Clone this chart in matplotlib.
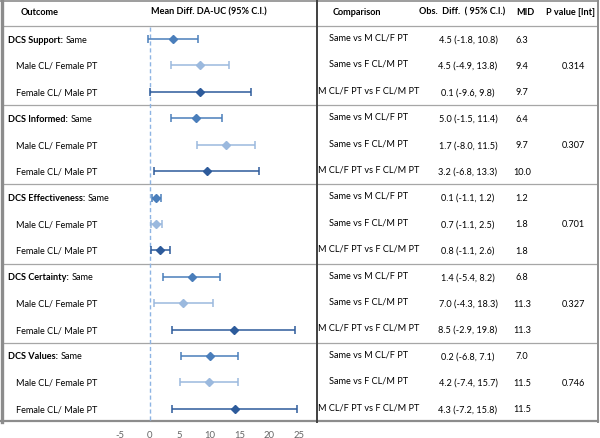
import matplotlib
matplotlib.use("Agg")
import matplotlib.pyplot as plt

plt.rcParams["font.family"] = ["Lato", "DejaVu Sans"]
plt.rcParams["axes.unicode_minus"] = False

outcomes = ["DCS Support", "DCS Informed", "DCS Effectiveness", "DCS Certainty", "DCS Values"]
subgroups = ["Same", "Male CL/ Female PT", "Female CL/ Male PT"]
colors = ["#4a7ebb", "#9bb9de", "#2d5b9b"]

# mean difference DA-UC and 95% CI, one value per row (5 outcomes x 3 subgroups)
means = [3.9, 8.4, 8.4, 7.7, 12.7, 9.6, 1.1, 1.0, 1.8, 7.0, 5.5, 14.0, 10.0, 9.9, 14.2]
lows = [-0.2, 3.6, 0.0, 3.5, 7.9, 0.8, 0.4, 0.3, 0.3, 2.3, 0.7, 3.7, 5.3, 5.1, 3.8]
highs = [8.1, 13.2, 16.9, 12.1, 17.6, 18.2, 1.9, 2.0, 3.4, 11.7, 10.5, 24.2, 14.8, 14.8, 24.5]

comparisons = ["Same vs M CL/F PT", "Same vs F CL/M PT", "M CL/F PT vs F CL/M PT"]
obs_est = [4.5, 4.5, 0.1, 5.0, 1.7, 3.2, 0.1, 0.7, 0.8, 1.4, 7.0, 8.5, 0.2, 4.2, 4.3]
obs_lo = [-1.8, -4.9, -9.6, -1.5, -8.0, -6.8, -1.1, -1.1, -1.1, -5.4, -4.3, -2.9, -6.8, -7.4, -7.2]
obs_hi = [10.8, 13.8, 9.8, 11.4, 11.5, 13.3, 1.2, 2.5, 2.6, 8.2, 18.3, 19.8, 7.1, 15.7, 15.8]
mid = [6.3, 9.4, 9.7, 6.4, 9.7, 10.0, 1.2, 1.8, 1.8, 6.8, 11.3, 11.3, 7.0, 11.5, 11.5]
p_int = ["0.314", "0.307", "0.701", "0.327", "0.746"]

xticks = [-5, 0, 5, 10, 15, 20, 25]

W, H = 600, 439
fig = plt.figure(figsize=(6, 4.39), dpi=100)
ax = fig.add_axes([0, 1 - 423 / H, 1, (423 - 1) / H])
x0px, ppu = 149.5, 6.0
ax.set_xlim(-x0px / ppu, (W - x0px) / ppu)
ax.set_ylim(14.5, -1.48)
for s in ax.spines.values():
    s.set_visible(False)
ax.set_yticks([])
ax.set_xticks(xticks)
ax.tick_params(axis="x", length=0, pad=5.5, labelsize=6.8, labelcolor="#666666")

def px(x):
    return x / W

T = ax.get_yaxis_transform()  # x in axes fraction, y in data

# frame and grid lines
line_kw = dict(transform=T, clip_on=False)
for y in [-0.49, 2.5, 5.5, 8.5, 11.5]:
    ax.plot([px(2), px(597)], [y, y], color="#a6a6a6", lw=0.9, **line_kw)
ax.plot([px(1.5), px(1.5)], [-1.48, 14.5], color="#8c8c8c", lw=2.4, **line_kw)
ax.plot([px(0), px(598)], [-1.45, -1.45], color="#8c8c8c", lw=1.2, **line_kw)
ax.plot([px(597.5), px(597.5)], [-1.48, 14.5], color="#8c8c8c", lw=1.4, **line_kw)
ax.plot([px(0), px(598)], [14.45, 14.45], color="#8c8c8c", lw=1.6, **line_kw)
ax.plot([px(317), px(317)], [-1.48, 14.5], color="#404040", lw=1.4, **line_kw)

# reference line at zero
ax.plot([0, 0], [-0.45, 14.45], color="#8eb4e3", lw=1, ls=(0, (3, 2)))

# forest plot
for i in range(len(means)):
    c = colors[i % 3]
    ax.errorbar(means[i], i, xerr=[[means[i] - lows[i]], [highs[i] - means[i]]],
                fmt="D", color=c, ms=4.2, lw=1.1, capsize=3, capthick=1.1)

fs = 6.6
hdr = dict(transform=T, ha="center", va="center", fontsize=fs, fontweight="bold")
ax.text(px(40), -1.06, "Outcome", **hdr)
ax.text(px(209), -1.06, "Mean Diff. DA-UC (95% C.I.)", **hdr)
ax.text(px(357), -1.06, "Comparison", **hdr)
ax.text(px(462), -1.06, "Obs.  Diff.  ( 95% C.I.)", **hdr)
ax.text(px(525), -1.06, "MID", **hdr)
ax.text(px(570), -1.06, "P value [Int]", **hdr)

fig.canvas.draw()
r = fig.canvas.get_renderer()
for g, name in enumerate(outcomes):
    y = g * 3
    t = ax.text(px(8), y, name + ":", transform=T, ha="left", va="center", fontsize=fs, fontweight="bold")
    bb = t.get_window_extent(renderer=r)
    ax.text(px(bb.x1 + 2.5), y, subgroups[0], transform=T, ha="left", va="center", fontsize=fs)
    for k in (1, 2):
        ax.text(px(16), y + k, subgroups[k], transform=T, ha="left", va="center", fontsize=fs)
    ax.text(px(573), y + 1, p_int[g], transform=T, ha="center", va="center", fontsize=fs)

for i in range(len(obs_est)):
    ax.text(px(369), i - 0.08, comparisons[i % 3], transform=T, ha="center", va="center", fontsize=fs)
    ax.text(px(468), i, f"{obs_est[i]:.1f} ({obs_lo[i]:.1f}, {obs_hi[i]:.1f})",
            transform=T, ha="center", va="center", fontsize=fs)
    ax.text(px(522), i, f"{mid[i]:.1f}", transform=T, ha="center", va="center", fontsize=fs)

fig.savefig("out.png", dpi=100)
